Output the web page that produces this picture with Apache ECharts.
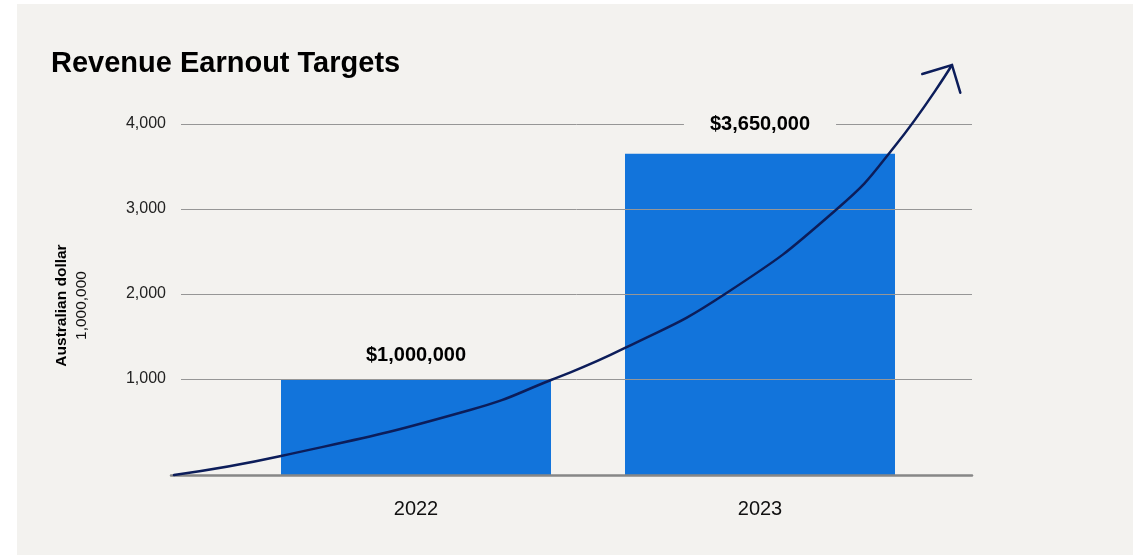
<!DOCTYPE html>
<html>
<head>
<meta charset="utf-8">
<title>Revenue Earnout Targets</title>
<script src="https://cdn.jsdelivr.net/npm/echarts@6/dist/echarts.min.js"></script>
<style>
  html, body { margin: 0; padding: 0; background: #ffffff; }
  #panel { position: absolute; left: 17px; top: 4px; width: 1116px; height: 551px; background: #f3f2ef; }
  #chart { position: absolute; left: 0; top: 0; width: 1142px; height: 555px; }
</style>
</head>
<body>
<div id="panel"></div>
<div id="chart"></div>
<script>
// Earnout target per year, in thousands of AUD (axis unit shown as 1,000,000 per 1,000)
const categories = ['2022', '2023'];
const targets = [1000, 3650];

// Value-axis ticks
const yTicks = [1000, 2000, 3000, 4000];
// Value sitting on the baseline of the plot (bars rise from here)
const yBase = -129.4;

// Growth arrow drawn over the bars: x in year offsets from 2022, y in axis units
const trendX = [-0.7035, -0.3924, 0.1570, 0.3924, 0.6076, 0.8983, 1.2238, 1.3924, 1.5581];
const trendY = [-129, 94, 635, 988, 1365, 2000, 3000, 3741, 4694];
const headX = [1.4718, 1.5581, 1.5823];
const headY = [4588, 4694, 4368];

// Horizontal extent of the baseline, in the same year offsets
const spanMin = -0.7122;
const spanMax = 1.6163;

const FONT = '"Liberation Sans", Arial, Helvetica, sans-serif';
const BG = '#f3f2ef';
const BAR = '#1274db';
const NAVY = '#0c1d5a';
const GRIDLINE = '#969696';

const fmtMoney = v => '$' + (v * 1000).toLocaleString('en-US');

const labelStyles = [
  { distance: 14 },
  { distance: 6.75, backgroundColor: BG, padding: [12, 26, 13, 26] }
];

const chart = echarts.init(document.getElementById('chart'), null, { renderer: 'canvas' });

chart.setOption({
  animation: false,
  backgroundColor: 'transparent',
  textStyle: { fontFamily: FONT },
  title: {
    text: 'Revenue Earnout Targets',
    left: 46,
    top: 44,
    textStyle: { fontFamily: FONT, fontSize: 29, fontWeight: 'bold', color: '#000000' }
  },
  grid: [
    // gridlines + tick labels
    { left: 181, right: 170, top: 124, bottom: 91 },
    // bars
    { left: 244, right: 210, top: 124, bottom: 80 },
    // baseline + growth arrow
    { left: 171, right: 170, top: 124, bottom: 80 }
  ],
  xAxis: [
    { gridIndex: 0, type: 'category', data: categories, show: false },
    {
      gridIndex: 1, type: 'category', data: categories,
      axisLine: { show: false }, axisTick: { show: false },
      axisLabel: { fontFamily: FONT, fontSize: 20, color: '#111111', margin: 24 }
    },
    {
      gridIndex: 2, type: 'value', min: spanMin, max: spanMax, z: 3,
      axisLine: { show: true, onZero: false, lineStyle: { color: '#878787', width: 2.5 } },
      axisTick: { show: false }, axisLabel: { show: false }, splitLine: { show: false }
    }
  ],
  yAxis: [
    {
      gridIndex: 0, type: 'value', min: 0, max: yTicks[yTicks.length - 1],
      interval: yTicks[1] - yTicks[0], z: 3,
      axisLine: { show: false }, axisTick: { show: false },
      axisLabel: {
        showMinLabel: false, fontFamily: FONT, fontSize: 16, color: '#222222', margin: 15,
        formatter: v => v.toLocaleString('en-US')
      },
      splitLine: { show: true, showMinLine: false, lineStyle: { color: GRIDLINE, width: 1 } },
      name: '{a|Australian dollar}\n{b|1,000,000}',
      nameLocation: 'middle',
      nameRotate: 90,
      nameGap: 89,
      nameTextStyle: {
        padding: [0, 23, 0, 0],
        rich: {
          a: { fontFamily: FONT, fontSize: 15.5, fontWeight: 'bold', color: '#000000', lineHeight: 20 },
          b: { fontFamily: FONT, fontSize: 15.5, color: '#111111', lineHeight: 20 }
        }
      }
    },
    {
      gridIndex: 1, type: 'value', min: yBase, max: yTicks[yTicks.length - 1], startValue: yBase,
      show: false, splitLine: { show: false }
    },
    {
      gridIndex: 2, type: 'value', min: yBase, max: yTicks[yTicks.length - 1],
      show: false, splitLine: { show: false }
    }
  ],
  series: [
    {
      name: 'Earnout target',
      type: 'bar',
      xAxisIndex: 1, yAxisIndex: 1,
      data: targets,
      barWidth: 270,
      itemStyle: { color: BAR },
      z: 2
    },
    {
      name: 'Target label',
      type: 'scatter',
      xAxisIndex: 1, yAxisIndex: 1,
      symbolSize: 0,
      itemStyle: { opacity: 1 },
      z: 4,
      data: targets.map((v, i) => ({
        value: [categories[i], v],
        label: Object.assign({
          show: true,
          position: 'top',
          formatter: () => fmtMoney(v),
          fontFamily: FONT, fontSize: 20, fontWeight: 'bold', color: '#000000'
        }, labelStyles[i])
      }))
    },
    {
      name: 'Growth',
      type: 'line',
      xAxisIndex: 2, yAxisIndex: 2,
      data: trendX.map((x, i) => [x, trendY[i]]),
      smooth: 0.5,
      symbol: 'none',
      clip: false,
      z: 6,
      lineStyle: { color: NAVY, width: 2.5, cap: 'round' }
    },
    {
      name: 'Growth head',
      type: 'line',
      xAxisIndex: 2, yAxisIndex: 2,
      data: headX.map((x, i) => [x, headY[i]]),
      symbol: 'none',
      clip: false,
      z: 6,
      lineStyle: { color: NAVY, width: 2.5, cap: 'round', join: 'miter' }
    }
  ]
});
</script>
</body>
</html>
